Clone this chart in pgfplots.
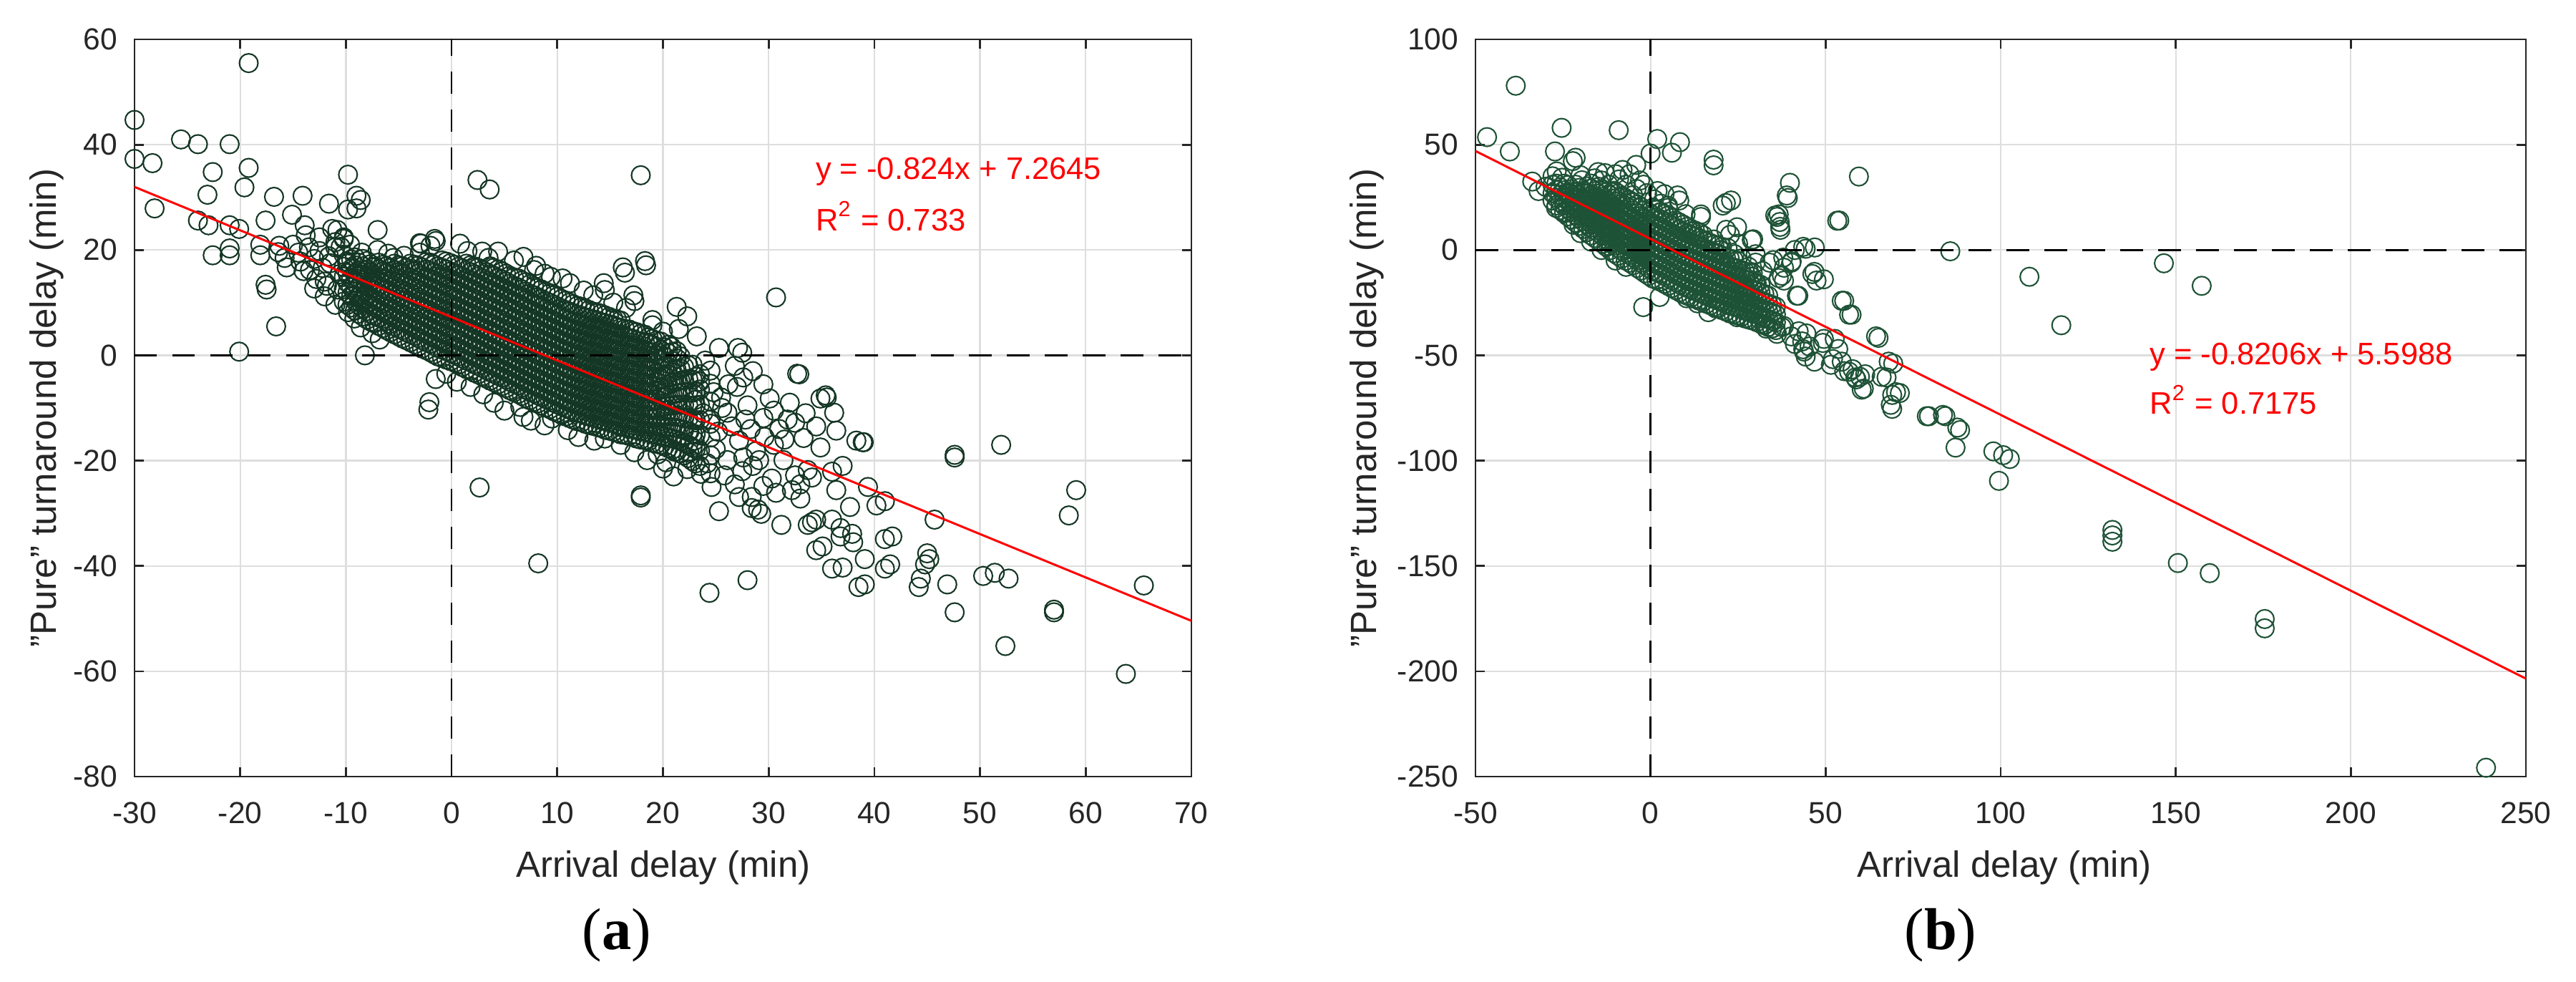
\documentclass[border=0pt]{standalone}
\usepackage{fontspec}
\setmainfont{Liberation Sans}
\newfontfamily\capfont{Liberation Serif}
\usepackage{pgfplots}
\usepackage{pgfplotstable}
\pgfplotsset{compat=1.18}
\definecolor{axgray}{RGB}{38,38,38}
\definecolor{gridgray}{RGB}{222,222,222}
\definecolor{markL}{RGB}{20,54,36}
\definecolor{markR}{RGB}{30,82,54}

\pgfplotstableread{
x a b c d e f g h i j k l m n o
-10.2 10.2 12.6 14.9 16.8 19.1 nan nan nan nan nan nan nan nan nan nan
-9.5 9.1 11.3 13.0 14.6 16.4 18.2 nan nan nan nan nan nan nan nan nan
-8.8 7.9 9.6 11.2 12.9 14.5 16.1 17.6 nan nan nan nan nan nan nan nan
-8.0 6.8 8.4 9.9 11.5 13.2 14.6 16.3 17.9 nan nan nan nan nan nan nan
-7.3 6.1 7.5 9.2 10.6 12.3 13.7 15.2 16.8 nan nan nan nan nan nan nan
-6.5 5.2 6.9 8.3 9.8 11.4 12.8 14.5 15.9 17.2 nan nan nan nan nan nan
-5.8 4.4 6.0 7.6 9.0 10.7 12.1 13.6 15.3 16.6 nan nan nan nan nan nan
-5.0 3.6 5.1 6.7 8.2 9.8 11.3 12.7 14.4 15.8 17.1 nan nan nan nan nan
-4.3 2.9 4.4 6.1 7.5 9.1 10.5 12.1 13.6 15.0 16.6 nan nan nan nan nan
-3.5 2.1 3.7 5.2 6.8 8.3 9.7 11.4 12.8 14.3 15.9 17.2 nan nan nan nan
-2.8 1.3 2.9 4.5 6.0 7.6 9.0 10.6 12.2 13.5 15.1 16.7 nan nan nan nan
-2.0 0.6 2.2 3.7 5.3 6.8 8.4 9.8 11.5 12.9 14.5 16.0 17.6 nan nan nan
-1.3 -0.2 1.4 3.0 4.5 6.1 7.6 9.2 10.7 12.3 13.8 15.4 16.9 nan nan nan
-0.5 -0.8 0.8 2.3 3.9 5.4 7.0 8.5 10.1 11.6 13.2 14.7 16.3 17.8 nan nan
0.3 -1.4 0.1 1.7 3.2 4.8 6.3 7.9 9.4 11.0 12.5 14.1 15.6 17.2 nan nan
1.0 -2.2 -0.6 0.9 2.5 4.0 5.6 7.1 8.7 10.2 11.8 13.3 14.9 16.5 nan nan
1.8 -2.9 -1.3 0.2 1.8 3.3 4.9 6.4 8.0 9.5 11.1 12.6 14.2 15.8 17.1 nan
2.5 -3.6 -2.0 -0.5 1.1 2.6 4.2 5.7 7.3 8.8 10.4 11.9 13.5 15.0 16.6 nan
3.3 -4.4 -2.8 -1.3 0.3 1.8 3.4 4.9 6.5 8.0 9.6 11.1 12.7 14.2 15.8 nan
4.0 -5.1 -3.5 -2.0 -0.4 1.1 2.7 4.2 5.8 7.3 8.9 10.4 12.0 13.5 15.1 16.6
4.8 -5.8 -4.2 -2.7 -1.1 0.4 2.0 3.5 5.1 6.6 8.2 9.7 11.3 12.8 14.4 15.9
5.5 -6.6 -5.0 -3.5 -1.9 -0.4 1.2 2.7 4.3 5.8 7.4 8.9 10.5 12.0 13.6 15.1
6.3 -7.3 -5.7 -4.2 -2.6 -1.1 0.5 2.0 3.6 5.1 6.7 8.2 9.8 11.3 12.9 14.6
7.0 -8.1 -6.5 -5.0 -3.4 -1.9 -0.3 1.2 2.8 4.3 5.9 7.4 9.0 10.5 12.1 13.9
7.8 -8.8 -7.2 -5.7 -4.1 -2.6 -1.0 0.5 2.1 3.6 5.2 6.7 8.3 9.8 11.4 13.1
8.5 -9.5 -7.9 -6.4 -4.8 -3.3 -1.7 -0.2 1.4 2.9 4.5 6.0 7.6 9.1 10.7 12.5
9.3 -10.2 -8.6 -7.1 -5.5 -4.0 -2.4 -0.9 0.7 2.2 3.8 5.3 6.9 8.4 10.0 11.8
10.0 -10.9 -9.3 -7.8 -6.2 -4.7 -3.1 -1.6 0.0 1.5 3.1 4.6 6.2 7.7 9.3 11.1
10.8 -11.6 -10.0 -8.5 -6.9 -5.4 -3.8 -2.3 -0.7 0.8 2.4 3.9 5.5 7.0 8.6 10.4
11.5 -12.2 -10.6 -9.1 -7.5 -6.0 -4.4 -2.9 -1.3 0.2 1.8 3.3 4.9 6.4 8.0 9.7
12.3 -12.7 -11.1 -9.6 -8.0 -6.5 -4.9 -3.4 -1.8 -0.3 1.3 2.8 4.4 5.9 7.5 9.2
13.0 -13.2 -11.6 -10.1 -8.5 -7.0 -5.4 -3.9 -2.3 -0.8 0.8 2.3 3.9 5.4 7.0 8.6
13.8 -13.6 -12.0 -10.5 -8.9 -7.4 -5.8 -4.3 -2.7 -1.2 0.4 1.9 3.5 5.0 6.6 8.1
14.5 -14.1 -12.5 -11.0 -9.4 -7.9 -6.3 -4.8 -3.2 -1.7 -0.1 1.4 3.0 4.5 6.1 7.6
15.3 -14.5 -12.9 -11.4 -9.8 -8.3 -6.7 -5.2 -3.6 -2.1 -0.5 1.0 2.6 4.1 5.7 7.0
16.0 -15.0 -13.4 -11.9 -10.3 -8.8 -7.2 -5.7 -4.1 -2.6 -1.0 0.5 2.1 3.6 5.2 6.6
16.8 -15.3 -13.7 -12.2 -10.6 -9.1 -7.5 -6.0 -4.4 -2.9 -1.3 0.2 1.8 3.3 4.9 nan
17.5 -15.8 -14.2 -12.7 -11.1 -9.6 -8.0 -6.5 -4.9 -3.4 -1.8 -0.3 1.3 2.8 4.4 nan
18.3 -16.1 -14.5 -13.0 -11.4 -9.9 -8.3 -6.8 -5.2 -3.7 -2.1 -0.6 1.0 2.5 3.9 nan
19.0 -16.6 -15.0 -13.5 -11.9 -10.4 -8.8 -7.3 -5.7 -4.2 -2.6 -1.1 0.5 2.0 3.1 nan
19.8 -17.0 -15.2 -13.4 -11.6 -9.8 -8.0 -6.2 -4.4 -2.6 -0.8 1.0 2.6 nan nan nan
20.5 -17.6 -15.6 -13.6 -11.6 -9.6 -7.6 -5.6 -3.6 -1.6 0.4 2.0 nan nan nan nan
21.3 -18.2 -16.0 -13.8 -11.6 -9.4 -7.2 -5.0 -2.8 -0.6 0.8 nan nan nan nan nan
22.0 -19.0 -16.6 -14.2 -11.8 -9.4 -7.0 -4.6 -2.2 nan nan nan nan nan nan nan
22.8 -20.1 -17.5 -14.9 -12.3 -9.7 -7.1 -4.6 -1.8 nan nan nan nan nan nan nan
23.5 -21.0 -18.1 -15.2 -12.3 -9.4 -6.5 -3.6 nan nan nan nan nan nan nan nan
24.5 -22.4 -19.0 -15.6 -12.2 -8.8 -5.4 -2.9 nan nan nan nan nan nan nan nan
-9.85 9.6 11.9 13.8 15.6 17.4 nan nan nan nan nan nan nan nan nan nan
-9.15 8.5 10.4 12.1 13.8 15.5 17.1 18.6 nan nan nan nan nan nan nan nan
-8.4 7.4 8.9 10.6 12.2 13.8 15.3 16.9 18.3 nan nan nan nan nan nan nan
-7.65 6.4 7.9 9.5 11.0 12.7 14.1 15.7 17.3 nan nan nan nan nan nan nan
-6.9 5.6 7.2 8.7 10.2 11.8 13.2 14.8 16.3 17.6 nan nan nan nan nan nan
-6.15 4.8 6.5 7.9 9.4 11.0 12.4 14.0 15.6 16.9 nan nan nan nan nan nan
-5.4 4.0 5.5 7.1 8.6 10.2 11.7 13.2 14.8 16.2 17.4 nan nan nan nan nan
-4.65 3.2 4.8 6.4 7.8 9.4 11.0 12.4 13.9 15.4 16.9 nan nan nan nan nan
-3.9 2.5 4.0 5.6 7.2 8.7 10.1 11.8 13.2 14.7 16.2 17.4 nan nan nan nan
-3.15 1.7 3.3 4.8 6.4 7.9 9.4 11.0 12.5 13.9 15.5 17.0 nan nan nan nan
-2.4 1.0 2.5 4.1 5.6 7.2 8.7 10.2 11.8 13.2 14.8 16.3 17.7 nan nan nan
-1.65 0.2 1.8 3.4 4.9 6.4 8.0 9.5 11.1 12.6 14.2 15.7 17.2 nan nan nan
-0.9 -0.5 1.1 2.6 4.2 5.8 7.3 8.8 10.4 11.9 13.5 15.0 16.6 18.0 nan nan
-0.1 -1.1 0.4 2.0 3.5 5.1 6.6 8.2 9.7 11.3 12.8 14.4 15.9 17.5 nan nan
0.65 -1.8 -0.2 1.3 2.9 4.4 6.0 7.5 9.0 10.6 12.1 13.7 15.2 16.8 nan nan
1.4 -2.6 -1.0 0.6 2.1 3.7 5.2 6.8 8.3 9.9 11.4 13.0 14.5 16.1 17.4 nan
2.15 -3.3 -1.7 -0.2 1.4 3.0 4.5 6.1 7.6 9.2 10.7 12.3 13.8 15.4 16.9 nan
2.9 -4.0 -2.4 -0.9 0.7 2.2 3.8 5.3 6.9 8.4 10.0 11.5 13.1 14.6 16.2 nan
3.65 -4.8 -3.2 -1.7 -0.1 1.5 3.0 4.6 6.1 7.7 9.2 10.8 12.3 13.9 15.4 16.9
4.4 -5.5 -3.9 -2.4 -0.8 0.8 2.3 3.9 5.4 7.0 8.5 10.1 11.6 13.2 14.7 16.3
5.15 -6.2 -4.6 -3.1 -1.5 0.0 1.6 3.1 4.7 6.2 7.8 9.3 10.9 12.4 14.0 15.5
5.9 -7.0 -5.4 -3.8 -2.3 -0.7 0.8 2.4 3.9 5.5 7.0 8.6 10.1 11.7 13.2 14.8
6.65 -7.7 -6.1 -4.6 -3.0 -1.5 0.1 1.6 3.2 4.7 6.3 7.8 9.4 10.9 12.5 14.2
7.4 -8.5 -6.9 -5.3 -3.8 -2.2 -0.7 0.9 2.4 4.0 5.5 7.1 8.6 10.2 11.7 13.5
8.15 -9.1 -7.6 -6.0 -4.5 -2.9 -1.4 0.2 1.7 3.3 4.8 6.4 7.9 9.5 11.0 12.8
8.9 -9.9 -8.3 -6.7 -5.2 -3.6 -2.1 -0.5 1.0 2.6 4.1 5.7 7.2 8.8 10.3 12.1
9.65 -10.6 -9.0 -7.4 -5.9 -4.3 -2.8 -1.2 0.3 1.9 3.4 5.0 6.5 8.1 9.6 11.4
10.4 -11.3 -9.7 -8.1 -6.6 -5.0 -3.5 -1.9 -0.4 1.2 2.7 4.3 5.8 7.4 8.9 10.7
11.15 -11.9 -10.3 -8.8 -7.2 -5.7 -4.1 -2.6 -1.0 0.5 2.1 3.6 5.2 6.7 8.3 10.0
11.9 -12.5 -10.9 -9.3 -7.8 -6.2 -4.7 -3.1 -1.6 0.0 1.5 3.1 4.6 6.2 7.7 9.4
12.65 -13.0 -11.4 -9.8 -8.3 -6.7 -5.2 -3.6 -2.1 -0.5 1.0 2.6 4.1 5.7 7.2 8.9
13.4 -13.4 -11.8 -10.3 -8.7 -7.2 -5.6 -4.1 -2.5 -1.0 0.6 2.1 3.7 5.2 6.8 8.3
14.15 -13.8 -12.3 -10.7 -9.2 -7.6 -6.1 -4.5 -3.0 -1.4 0.1 1.7 3.2 4.8 6.3 7.9
14.9 -14.3 -12.7 -11.2 -9.6 -8.1 -6.5 -5.0 -3.4 -1.9 -0.3 1.2 2.8 4.3 5.9 7.3
15.65 -14.7 -13.2 -11.6 -10.1 -8.5 -7.0 -5.4 -3.9 -2.3 -0.8 0.8 2.3 3.9 5.4 6.8
16.4 -15.1 -13.6 -12.0 -10.5 -8.9 -7.4 -5.8 -4.3 -2.7 -1.2 0.4 1.9 3.5 5.0 nan
17.15 -15.5 -14.0 -12.4 -10.9 -9.3 -7.8 -6.2 -4.7 -3.1 -1.6 0.0 1.5 3.1 4.6 nan
17.9 -16.0 -14.4 -12.8 -11.3 -9.7 -8.2 -6.6 -5.1 -3.5 -2.0 -0.4 1.1 2.7 4.1 nan
18.65 -16.3 -14.7 -13.2 -11.6 -10.1 -8.5 -7.0 -5.4 -3.9 -2.3 -0.8 0.7 2.2 3.4 nan
19.4 -16.8 -15.1 -13.4 -11.7 -10.1 -8.4 -6.7 -5.0 -3.3 -1.6 0.0 1.6 2.8 nan nan
20.15 -17.3 -15.4 -13.5 -11.6 -9.7 -7.8 -5.9 -4.0 -2.1 -0.2 1.5 nan nan nan nan
20.9 -17.9 -15.8 -13.7 -11.6 -9.5 -7.4 -5.3 -3.2 -1.1 0.6 nan nan nan nan nan
21.65 -18.6 -16.3 -14.0 -11.7 -9.4 -7.1 -4.8 -2.5 -0.2 nan nan nan nan nan nan
22.4 -19.5 -17.0 -14.5 -12.0 -9.5 -7.0 -4.5 -1.9 nan nan nan nan nan nan nan
23.1 -20.5 -17.8 -15.0 -12.3 -9.5 -6.8 -4.1 nan nan nan nan nan nan nan nan
}\coreL

\pgfplotstableread{
x a b c d e f g h i j
-28.0 23.5 27.0 31.0 nan nan nan nan nan nan nan
-25.8 19.0 22.6 26.2 29.8 nan nan nan nan nan nan
-23.6 16.0 19.7 23.4 27.1 30.8 nan nan nan nan nan
-21.4 13.0 16.6 20.2 23.8 27.4 31.0 nan nan nan nan
-19.2 10.0 13.6 17.2 20.8 24.4 28.0 nan nan nan nan
-17.0 7.0 10.7 14.4 18.1 21.8 25.5 29.2 nan nan nan
-14.8 4.5 8.2 11.9 15.6 19.3 23.0 26.7 30.0 nan nan
-12.6 1.5 5.2 8.9 12.6 16.3 20.0 23.7 27.4 nan nan
-10.4 -1.5 2.2 5.9 9.6 13.3 17.0 20.7 24.4 28.1 nan
-8.2 -4.0 -0.3 3.4 7.1 10.8 14.5 18.2 21.9 25.6 nan
-6.0 -6.0 -2.3 1.4 5.1 8.8 12.5 16.2 19.9 23.6 nan
-3.8 -8.5 -4.8 -1.1 2.6 6.3 10.0 13.7 17.4 21.6 nan
-1.6 -11.0 -7.3 -3.6 0.1 3.8 7.5 11.2 14.9 19.0 nan
0.6 -13.5 -9.8 -6.1 -2.4 1.3 5.0 8.7 12.4 16.5 20.0
2.8 -15.0 -11.3 -7.6 -3.9 -0.2 3.5 7.2 10.9 14.6 18.0
5.0 -17.0 -13.3 -9.6 -5.9 -2.2 1.5 5.2 8.9 12.6 16.3
7.2 -19.0 -15.3 -11.6 -7.9 -4.2 -0.5 3.2 6.9 10.6 14.0
9.4 -21.0 -17.3 -13.6 -9.9 -6.2 -2.5 1.2 4.9 8.6 12.0
11.6 -22.5 -18.8 -15.1 -11.4 -7.7 -4.0 -0.3 3.4 7.1 10.0
13.8 -24.0 -20.3 -16.6 -12.9 -9.2 -5.5 -1.8 1.9 5.6 8.5
16.0 -25.5 -21.8 -18.1 -14.4 -10.7 -7.0 -3.3 0.4 4.1 nan
18.2 -27.0 -23.3 -19.6 -15.9 -12.2 -8.5 -4.8 -1.1 2.6 nan
20.4 -28.5 -24.8 -21.1 -17.4 -13.7 -10.0 -6.3 -2.6 1.5 nan
22.6 -30.0 -26.3 -22.6 -18.9 -15.2 -11.5 -7.8 -4.1 nan nan
24.8 -31.0 -27.3 -23.6 -19.9 -16.2 -12.5 -8.8 -5.0 nan nan
27.0 -32.5 -28.8 -25.1 -21.4 -17.7 -14.0 -10.3 nan nan nan
29.2 -33.5 -29.8 -26.1 -22.4 -18.7 -15.0 -11.0 nan nan nan
31.4 -35.0 -31.3 -27.6 -23.9 -20.2 -16.5 nan nan nan nan
33.6 -36.5 -32.8 -29.1 -25.4 -21.7 nan nan nan nan nan
35.8 -38.0 -34.3 -30.6 -26.9 nan nan nan nan nan nan
-26.9 21.2 24.8 28.4 31.5 nan nan nan nan nan nan
-24.7 17.5 21.1 24.7 28.3 31.5 nan nan nan nan nan
-22.5 14.5 18.1 21.7 25.3 28.9 nan nan nan nan nan
-20.3 11.5 15.1 18.7 22.3 25.9 29.5 nan nan nan nan
-18.1 8.5 12.1 15.8 19.4 23.1 26.7 30.2 nan nan nan
-15.9 5.7 9.4 13.1 16.8 20.5 24.2 27.9 nan nan nan
-13.7 3.0 6.7 10.4 14.1 17.8 21.5 25.2 28.7 nan nan
-11.5 0.0 3.7 7.4 11.1 14.8 18.5 22.2 25.9 nan nan
-9.3 -2.7 1.0 4.6 8.3 12.0 15.7 19.4 23.1 26.8 nan
-7.1 -5.0 -1.3 2.4 6.1 9.8 13.5 17.2 20.9 24.6 nan
-4.9 -7.2 -3.5 0.2 3.9 7.6 11.3 15.0 18.7 22.6 nan
-2.7 -9.7 -6.0 -2.3 1.4 5.1 8.8 12.5 16.2 20.3 nan
-0.5 -12.2 -8.5 -4.8 -1.1 2.6 6.3 10.0 13.7 17.8 nan
1.7 -14.2 -10.5 -6.8 -3.1 0.6 4.3 8.0 11.7 15.5 19.0
3.9 -16.0 -12.3 -8.6 -4.9 -1.2 2.5 6.2 9.9 13.6 17.1
6.1 -18.0 -14.3 -10.6 -6.9 -3.2 0.5 4.2 7.9 11.6 15.2
8.3 -20.0 -16.3 -12.6 -8.9 -5.2 -1.5 2.2 5.9 9.6 13.0
10.5 -21.7 -18.0 -14.3 -10.6 -6.9 -3.2 0.5 4.2 7.9 11.0
12.7 -23.2 -19.5 -15.8 -12.1 -8.4 -4.7 -1.0 2.7 6.3 9.2
14.9 -24.7 -21.0 -17.3 -13.6 -9.9 -6.2 -2.5 1.2 4.9 nan
17.1 -26.2 -22.5 -18.8 -15.1 -11.4 -7.7 -4.0 -0.3 3.3 nan
19.3 -27.7 -24.0 -20.3 -16.6 -12.9 -9.2 -5.5 -1.8 2.0 nan
21.5 -29.2 -25.5 -21.8 -18.1 -14.4 -10.7 -7.0 -3.3 nan nan
23.7 -30.5 -26.8 -23.1 -19.4 -15.7 -12.0 -8.3 -4.5 nan nan
25.9 -31.7 -28.0 -24.3 -20.6 -16.9 -13.2 -9.5 nan nan nan
28.1 -33.0 -29.3 -25.6 -21.9 -18.2 -14.5 -10.6 nan nan nan
30.3 -34.2 -30.5 -26.8 -23.1 -19.4 -15.7 nan nan nan nan
32.5 -35.7 -32.0 -28.3 -24.6 -20.9 nan nan nan nan nan
34.7 -37.2 -33.5 -29.8 -26.1 nan nan nan nan nan nan
}\coreR

\pgfplotsset{
  panel/.style={
    anchor=south west, scale only axis, height=206pt,
    grid=major, major grid style={line width=0.45pt, draw=gridgray},
    axis line style={line width=0.55pt, draw=axgray},
    tick style={line width=0.55pt, draw=axgray},
    tick align=inside, major tick length=2.6pt,
    xtick pos=both, ytick pos=both,
    xticklabel pos=lower, yticklabel pos=left,
    tick label style={font=\fontsize{8.5}{10}\selectfont, color=axgray, inner sep=0pt},
    xticklabel shift=7pt, yticklabel shift=4.6pt,
    clip=false, clip marker paths=true,
  },
  ptmark/.style={only marks, mark=o, mark size=2.6pt, line width=0.42pt},
  zeroline/.style={black, line width=0.55pt, dash pattern=on 6.3pt off 4.3pt},
  fitline/.style={red, line width=0.6pt},
}
\tikzset{
  eqtext/.style={anchor=base west, text=red, font=\fontsize{8.7}{10}\selectfont, inner sep=0pt},
}

\begin{document}
\begin{tikzpicture}
\path[use as bounding box] (0,0) rectangle (720pt,274.2pt);

% ---------------- panel (a) ----------------
\begin{axis}[panel,
  at={(37.6pt,57.2pt)}, width=295.4pt,
  xmin=-30, xmax=70, ymin=-80, ymax=60,
  xtick={-30,-20,...,70}, ytick={-80,-60,...,60},
  xticklabels={-30,-20,-10,0,10,20,30,40,50,60,70},
  yticklabels={-80,-60,-40,-20,0,20,40,60},
]
\pgfplotsinvokeforeach{a,b,c,d,e,f,g,h,i,j,k,l,m,n,o}{
  \addplot[ptmark, color=markL] table[x=x, y=#1] {\coreL};
}
\addplot[ptmark, color=markL] coordinates {
(-19.2,55.5) (-30,44.7) (-25.6,41) (-24,40.1) (-21,40.1) (-30,37.3) (-28.3,36.5) (-22.6,34.8)
(-19.2,35.6) (-9.8,34.3) (-23.1,30.5) (-19.6,31.9) (-28.1,27.9) (-16.8,30.1) (-14.1,30.3)
(-11.6,28.8) (-9,30.3) (-15.1,26.7) (-17.6,25.6) (-13.9,24.7) (-24,25.6) (-23,24.7) (-21,24.7)
(-20.1,24) (-22.6,19) (-21,19) (-21,20.3) (-18.1,19) (-18.1,21) (-16.4,19.6) (-15.6,16.7)
(-15,21) (-11.3,24) (-9.8,27.7) (-8.6,29.5) (-9,27.9) (-17.6,13.4) (-10.8,23.8) (-10.2,22.1)
(-7,23.8) (-1.6,22.1) (-2.9,21.2) (-17.5,12.5) (-20.1,0.7) (-16.6,5.5) (-8.2,0)
(-14.5,19.5) (-13.5,20.5) (-13,18.3) (-12.2,16.6) (-11.6,18.8) (-12.8,14.5) (-14,16)
(-15.8,18.5) (-16.3,20.8) (-11.8,13.2) (-10.6,15.4) (-9.9,17.8) (-11,20.5) (-12.5,22.4)
(-13.8,22.8) (-12,14) (-11.5,17.5) (-12.5,19.8) (-11,21.5) (-10.5,20.6) (-10.2,22.4)
(-9.6,21.0) (-13.4,16.2) (-14.3,17.8) (-13,12.7) (-12,11.2) (-11,9.6) (-10.8,12.5)
(-9.8,8.2) (-9.2,7.0) (-8.6,5.3) (-7.5,4.2) (-6.8,3.0)
(-7,20.0) (-6,19.3) (-4.5,18.9) (-3,19.5) (-2,20.8) (-1.5,21.7) (-3,21.3) (0.8,21.2)
(1.5,19.8) (2.9,19.7) (4.4,19.7) (5.9,18.0) (6.8,18.7) (7.8,16.2) (8.8,15.5) (9.4,14.9)
(10.5,14.6) (11.2,13.7) (12.5,12.3) (13.4,11.4) (14.4,13.7) (15.3,10.0) (16.2,16.7)
(16.4,15.7) (17.3,10.3) (17.2,11.4) (18.3,17.9) (18.4,17.1) (19,6.7) (19,5.7) (20.8,1.6)
(21.3,9.2) (22.3,7.4) (23.2,3.6) (25.3,1.4) (27.1,1.4) (17.9,34.2) (30.7,11) (2.45,33.3)
(3.6,31.5) (14.5,12.4) (16.5,9) (20,4.5) (21.5,5) (-5.5,18.5) (-8.5,19.5) (3.5,18.5) (8,17)
(-2.2,-10.3) (-2.1,-8.9) (-1.5,-4.5) (-0.5,-3.5) (0.5,-5) (1.8,-6) (3,-7.4) (4,-9)
(5,-10.5) (6.5,-9.8) (6.8,-11.7) (7.5,-12.4) (8.8,-13.3) (9.5,-12.0) (11,-14.2) (12,-15.5)
(13.5,-16.2) (14.5,-15.8) (16,-17.0) (17.3,-18.4) (18.5,-19.9) (19.5,-18.8) (20.3,-20.3)
(21.1,-18.3) (22.3,-21.6) (23,-16.2) (24.2,-20.5) (25,-17.8) (26.1,-19.9) (27.2,-16.2)
(26.1,-10.9) (25.5,-8) (27,-6) (28,-9.5) (27.6,-4.2) (29.5,-11.9) (30.1,-8.2) (31.8,-12.2)
(32.9,-3.6) (24.5,-13) (23.8,-11) (25.2,-14.5) (26.5,-13.5) (28.3,-14) (27.8,-12.2)
(29.6,-15.5) (30.5,-17) (31.5,-16) (28.8,-18.2) (29.1,-19.9) (31.4,-19.9) (27.6,-19.4)
(32.5,-22.8) (30.3,-23.4) (33.7,-21.8) (34.1,-23.2) (36,-22.1) (37,-21) (34.9,-8.2)
(35.4,-7.6) (36.2,-10.9) (34.5,-13.5) (36.4,-14.3) (38.3,-16.2) (38.9,-16.5) (33.3,-15.7)
(34.9,-17.5) (21,-5) (21.5,-8) (22,-12) (22.5,-14.5) (23,-8.5) (23.5,-5) (24,-1) (24.8,-7)
(25.6,-10) (26.2,-5.5) (26.8,-2) (27.5,0.5) (28.5,-3) (29.5,-5.5) (30.5,-10.5) (31,-14)
(32,-9) (32.5,-12.8) (33.5,-11) (22.5,-18.5) (23.6,-22.5) (24.6,-25) (25.8,-22.8)
(26.8,-24.5) (27.5,-22) (28.5,-21) (20,-21.5) (21,-23) (19.5,-14.5)
(17.9,-26.6) (25.3,-29.6) (29,-29.3) (31.2,-32.2) (34.1,-31.7) (35.1,-36.3) (36.4,-25.6)
(37.7,-28.8) (37,-40.3) (39.1,-38.7) (39.1,-43.5) (36.8,-34.4) (38,-35.5) (39.4,-25)
(41,-27.7) (41.7,-34.4) (41.5,-39.7) (41,-40.5) (45,-37.6) (44.8,-39.7) (44.2,-44)
(46.9,-43.5) (45.7,-31.2) (47.6,-18.9) (47.6,-19.4) (52,-17) (59.1,-25.6) (58.4,-30.4)
(50.3,-41.9) (51.4,-41.3) (52.7,-42.4) (47.6,-48.8) (57,-48.3) (57,-48.8) (52.4,-55.2)
(65.5,-43.7) (63.8,-60.5) (24.4,-45.1) (28,-42.7) (29.3,-30.1) (28.4,-26.9) (30.7,-26.1)
(33,-27.2) (32.2,-25.6) (36,-31.2) (36.8,-32.8) (37.9,-33.9) (41,-34.9) (45.2,-38.7)
(44.4,-42.4) (34.5,-31.2) (33.7,-32.2) (28.4,-29) (27.2,-26.9) (33,-24.5) (29.5,-24.8)
(8.2,-39.5) (2.65,-25.1) (17.9,-27) (38.5,-44) (36,-40.5) (34.5,-37) (40.2,-28.5)
(32.7,-3.5) (35.5,-8) (39,-16.5)
};
\addplot[zeroline] coordinates {(0,-80) (0,60)};
\addplot[zeroline] coordinates {(-30,0) (70,0)};
\addplot[fitline] coordinates {(-30,31.98) (70,-50.42)};
\node[eqtext] at (axis cs:34.4,33.4) {y = -0.824x + 7.2645};
\node[eqtext] at (axis cs:34.4,23.7) {R\textsuperscript{2} = 0.733};
\end{axis}

% ---------------- panel (b) ----------------
\begin{axis}[panel,
  at={(412.4pt,57.2pt)}, width=293.6pt,
  xmin=-50, xmax=250, ymin=-250, ymax=100,
  xtick={-50,0,...,250}, ytick={-250,-200,...,100},
  xticklabels={-50,0,50,100,150,200,250},
  yticklabels={-250,-200,-150,-100,-50,0,50,100},
]
\pgfplotsinvokeforeach{a,b,c,d,e,f,g,h,i,j}{
  \addplot[ptmark, color=markR] table[x=x, y=#1] {\coreR};
}
\addplot[ptmark, color=markR] coordinates {
(-38.5,78) (-46.7,53.6) (-40.2,46.8) (-33.8,32.5) (-25.4,58) (-27.3,46.8) (-21.4,43.8)
(-22.2,42.2) (-26.8,37.3) (-25.3,34.3) (-19.6,33.1) (-18.6,27.7) (-24.7,22.9) (-24.7,18.1)
(-9.1,56.9) (-4.1,40.4) (1.9,52.7) (8.4,51.2) (6.1,46.2) (0,45.8) (18,42.9) (18,40.2)
(7.7,25.9) (8.2,23.5) (21.5,22.3) (23,23.5) (20.6,21.1) (14.4,16.9) (14.4,15.7)
(-12,31) (-9,33.5) (-7,31) (-4,29) (-3,33) (-6,36) (-1,27) (1,24) (-2,31) (-14,33) (-10,36)
(-16,34) (-13,36.5) (-8,38) (-5,26) (3,22) (5,21) (-11,27.5) (-17,31.5) (-20,35.5) (-15,37)
(2,28) (4,26.5) (-23,27) (-28,35) (-30,30) (-32,28)
(3,18) (5,20) (10,17) (12,9) (15,7) (18,5) (20,0) (24,-2) (26,-4) (28,-8) (30,-6) (25,3)
(22,1) (32,-10) (30,-2) (22.7,7.2) (21.6,9.6) (24.7,10.8) (28.9,4.8) (29.3,5.1)
(39.8,31.9) (38.9,25.9) (39.2,24.7) (36.1,15.7) (36.6,16.9) (36.9,13.3) (37.1,9.6) (37,11)
(35.6,16.4) (59.5,34.9) (53.9,14) (53.3,13.9)
(41.2,0) (46.9,1.2) (44.3,0.6) (43.6,1.5) (37.9,-3.6) (35,-4.8) (34,-6) (40.2,-6) (38.1,-8.4)
(40.3,-5.4) (46.2,-11.4) (49.5,-13.9) (47.4,-14.5) (46.8,-10.4) (28.9,-12.7) (29.9,-15.7)
(36.6,-13.3) (38.1,-14.5) (37.5,-12.2) (41.8,-21.7) (42.2,-21.7) (54.6,-24.1) (56.7,-30.7)
(55.3,-24.1) (57.4,-30.7) (64.4,-41) (65.1,-41.7)
(-2.1,-27.1) (2.6,-22.3) (16.5,-29.5) (22.7,-30.1) (24.7,-31.9) (33,-37.3) (36.1,-39.8)
(38.1,-36.1) (42.3,-38.6) (43.3,-43.4) (45.4,-45.8) (44.3,-50.6) (49.5,-42.2) (52.6,-42.2)
(53.6,-47) (54.6,-53) (57.7,-56.6) (59.8,-60.2) (60.3,-66.3) (68,-53) (66,-60.2) (70.1,-67.5)
(68.6,-73.5) (78.9,-78.9) (83.5,-78.3) (87.6,-84.3) (52.1,-51.8) (56.7,-57.8) (58.8,-61.4)
(61.3,-59) (40.2,-41) (41.2,-44.6) (43.8,-48.2) (28.9,-28.9) (30.9,-32.5) (35.1,-33.7)
(17.5,-20.5) (22.7,-20.5) (26.8,-19.3) (10.3,-22.9) (13.4,-25.3) (18.6,-27.7) (37.5,-36.6)
(34.7,-37.2) (32.8,-35.2) (29.3,-27.7) (23.4,-21.7) (44.5,-39.6) (49.2,-44.1) (46.8,-53)
(51.5,-54.5) (55.3,-57.5) (58.5,-60.5) (60.9,-65.8) (67.4,-60.5) (69.3,-53.9) (69,-68.8)
(71.2,-67.9) (69,-75.4) (43.6,-47.1)
(-20,8) (-17,4) (-14,0) (-10,-5) (-7,-8) (-12,2) (-22,12) (-27,20)
(85.6,-0.6) (108.2,-12.7) (117.3,-35.7) (146.6,-6.3) (157.4,-17) (131.9,-132.9)
(131.9,-135.5) (131.9,-138.5) (150.6,-148.6) (159.7,-153.4) (175.4,-175.2) (175.4,-179.6)
(238.6,-245.8) (79.5,-78.9) (84.2,-78.9) (88.4,-85.5) (87.1,-93.8) (97.9,-95.6)
(99.5,-109.6) (100.7,-97.4) (102.6,-99.2)
};
\addplot[zeroline] coordinates {(0,-250) (0,100)};
\addplot[zeroline] coordinates {(-50,0) (250,0)};
\addplot[fitline] coordinates {(-50,47) (250,-203.5)};
\node[eqtext] at (axis cs:142.4,-54.4) {y = -0.8206x + 5.5988};
\node[eqtext] at (axis cs:142.4,-78.0) {R\textsuperscript{2} = 0.7175};
\end{axis}

% ---------------- labels ----------------
\begin{scope}[every node/.style={font=\fontsize{10.2}{12}\selectfont, text=axgray, inner sep=0pt}]
\node[rotate=90, anchor=center] at (13pt,160.2pt) {"Pure" turnaround delay (min)};
\node[anchor=base] at (185.4pt,29.2pt) {Arrival delay (min)};
\node[rotate=90, anchor=center] at (382pt,160.2pt) {"Pure" turnaround delay (min)};
\node[anchor=base] at (560.2pt,29.2pt) {Arrival delay (min)};
\end{scope}
\node[font=\capfont\fontsize{16.5}{18}\selectfont, inner sep=0pt, anchor=center] at (172.4pt,12.8pt) {(\textbf{a})};
\node[font=\capfont\fontsize{16.5}{18}\selectfont, inner sep=0pt, anchor=center] at (542.4pt,12.8pt) {(\textbf{b})};
\end{tikzpicture}
\end{document}
